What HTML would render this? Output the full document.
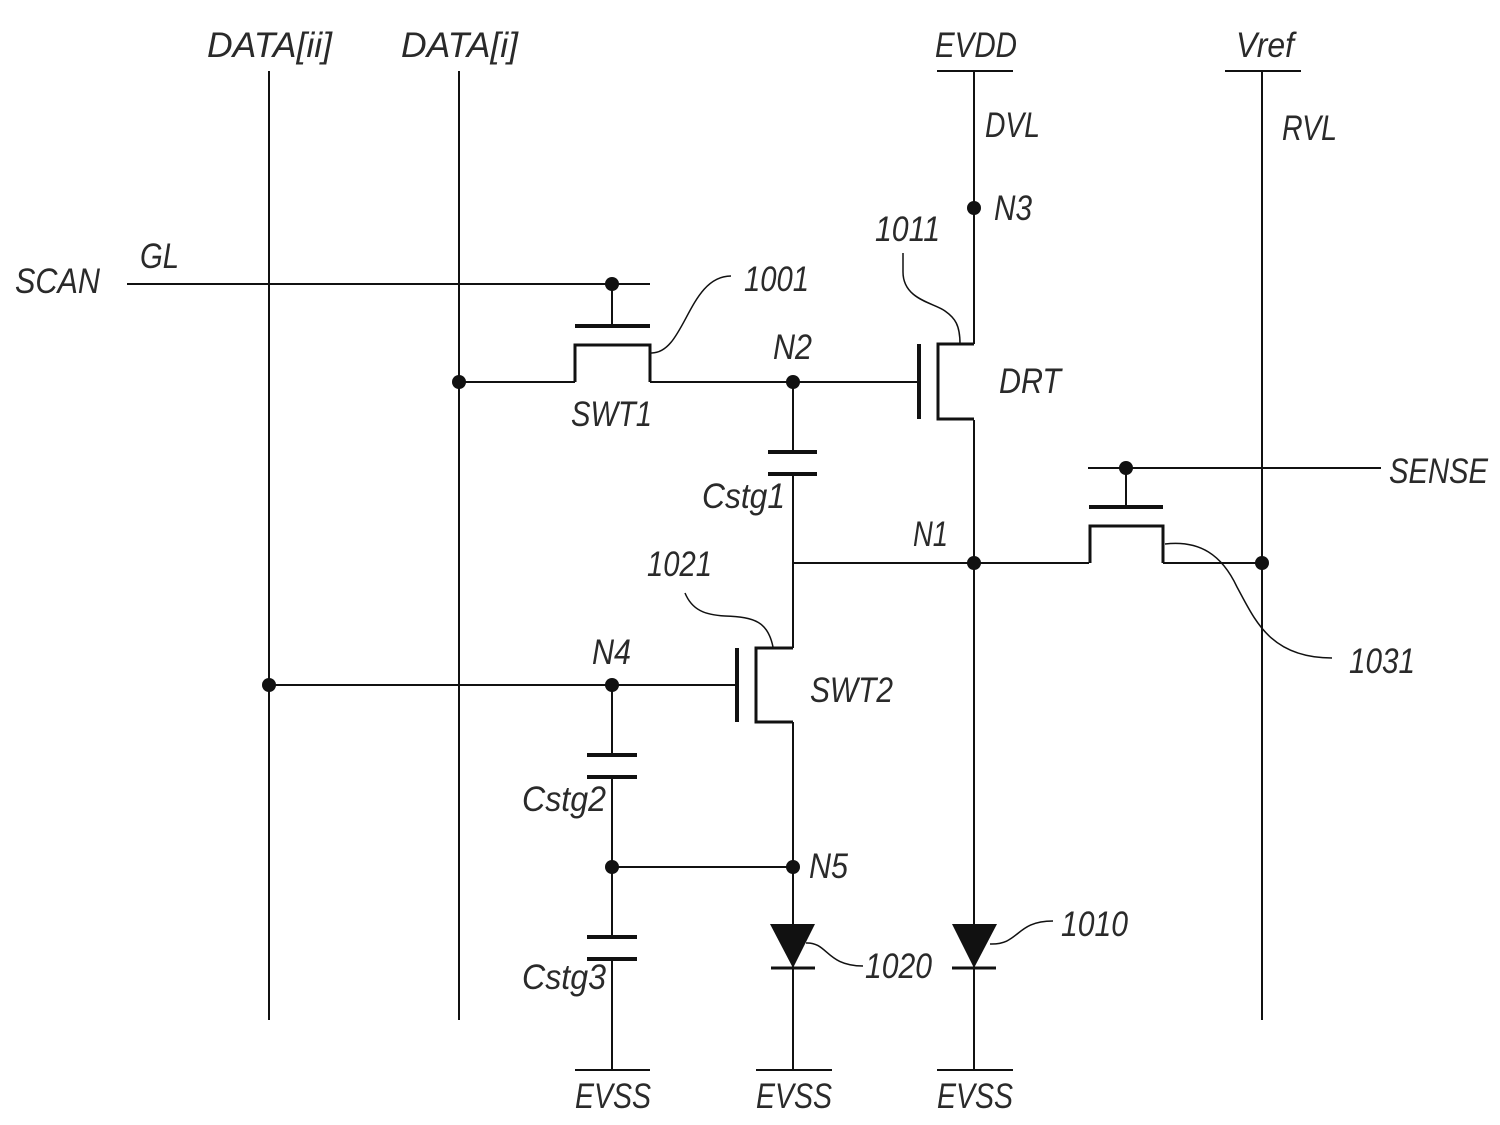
<!DOCTYPE html>
<html>
<head>
<meta charset="utf-8">
<style>
html,body{margin:0;padding:0;background:#fff;width:1500px;height:1125px;overflow:hidden}
svg{display:block}
text{font-family:"Liberation Sans",sans-serif;font-style:italic;font-size:35px;fill:#2a2a2a}
.l{stroke:#111;stroke-width:2;fill:none}
.c{stroke:#111;stroke-width:1.5;fill:none}
.t{stroke:#111;stroke-width:3;fill:none}
.g{stroke:#111;stroke-width:4;fill:none}
</style>
</head>
<body>
<svg width="1500" height="1125" viewBox="0 0 1500 1125" xmlns="http://www.w3.org/2000/svg">
<!-- rails -->
<path class="l" d="M269 71V1020M459 71V1020M1262 71V1020"/>
<path class="l" d="M937 71H1013M1225 71H1301"/>
<path class="l" d="M974 71V344"/>
<path class="l" d="M127 284H650M1088 468H1381"/>
<path class="l" d="M459 382H575M650 382H918"/>
<path class="l" d="M793 382V452M793 474V648"/>
<path class="l" d="M793 563H1089M1163 563H1262"/>
<path class="l" d="M974 420V1070"/>
<path class="l" d="M269 685H736"/>
<path class="l" d="M612 685V755M612 777V937M612 959V1070"/>
<path class="l" d="M793 722V1070"/>
<path class="l" d="M612 867H793"/>
<path class="l" d="M612 284V325M1126 468V507"/>
<path class="l" d="M575 1070H650M756 1070H832M937 1070H1013"/>
<!-- SWT1 -->
<path class="g" d="M575 326H650"/>
<path class="t" d="M575 382V345H650V382"/>
<!-- sense TFT -->
<path class="g" d="M1089 507H1163"/>
<path class="t" d="M1090 563V526H1163V563"/>
<!-- DRT -->
<path class="g" d="M919 344V419"/>
<path class="t" d="M974 344H938V419H974"/>
<!-- SWT2 -->
<path class="g" d="M737 648V722"/>
<path class="t" d="M793 648H756V722H793"/>
<!-- caps -->
<path class="g" d="M768 452H817M768 474H817"/>
<path class="g" d="M587 755H637M587 777H637"/>
<path class="g" d="M587 937H637M587 959H637"/>
<!-- diodes -->
<path d="M770 924H815L793 968Z" fill="#111"/>
<path class="t" d="M771 968H815"/>
<path d="M952 924H997L974 968Z" fill="#111"/>
<path class="t" d="M952 968H996"/>
<!-- leaders -->
<path class="c" d="M651 353C685 354 688 276 731 276"/>
<path class="c" d="M903 253V272C903 300 935 303 945 311C955 318 960 325 960 344"/>
<path class="c" d="M685 593C692 610 705 615 725 616C755 617 768 622 773 647"/>
<path class="c" d="M1165 544C1200 540 1222 555 1237 587C1255 620 1270 658 1332 658"/>
<path class="c" d="M806 943C828 942 826 966 863 966"/>
<path class="c" d="M990 944C1020 945 1015 921 1053 921"/>
<!-- dots -->
<g fill="#111">
<circle cx="612" cy="284" r="7"/><circle cx="459" cy="382" r="7"/><circle cx="793" cy="382" r="7"/>
<circle cx="974" cy="208" r="7"/><circle cx="1126" cy="468" r="7"/><circle cx="974" cy="563" r="7"/>
<circle cx="1262" cy="563" r="7"/><circle cx="269" cy="685" r="7"/><circle cx="612" cy="685" r="7"/>
<circle cx="612" cy="867" r="7"/><circle cx="793" cy="867" r="7"/>
</g>
<!-- labels -->
<g lengthAdjust="spacingAndGlyphs">
<text x="207" y="57" textLength="125" lengthAdjust="spacingAndGlyphs">DATA[ii]</text>
<text x="401" y="57" textLength="117" lengthAdjust="spacingAndGlyphs">DATA[i]</text>
<text x="935" y="57" textLength="82" lengthAdjust="spacingAndGlyphs">EVDD</text>
<text x="1236" y="57" textLength="58" lengthAdjust="spacingAndGlyphs">Vref</text>
<text x="985" y="137" textLength="55" lengthAdjust="spacingAndGlyphs">DVL</text>
<text x="1282" y="140" textLength="55" lengthAdjust="spacingAndGlyphs">RVL</text>
<text x="994" y="220" textLength="38" lengthAdjust="spacingAndGlyphs">N3</text>
<text x="875" y="241" textLength="65" lengthAdjust="spacingAndGlyphs">1011</text>
<text x="140" y="268" textLength="39" lengthAdjust="spacingAndGlyphs">GL</text>
<text x="15" y="293" textLength="85" lengthAdjust="spacingAndGlyphs">SCAN</text>
<text x="744" y="291" textLength="65" lengthAdjust="spacingAndGlyphs">1001</text>
<text x="773" y="359" textLength="39" lengthAdjust="spacingAndGlyphs">N2</text>
<text x="999" y="393" textLength="62" lengthAdjust="spacingAndGlyphs">DRT</text>
<text x="571" y="426" textLength="81" lengthAdjust="spacingAndGlyphs">SWT1</text>
<text x="1389" y="483" textLength="99" lengthAdjust="spacingAndGlyphs">SENSE</text>
<text x="702" y="508" textLength="83" lengthAdjust="spacingAndGlyphs">Cstg1</text>
<text x="913" y="546" textLength="35" lengthAdjust="spacingAndGlyphs">N1</text>
<text x="647" y="576" textLength="65" lengthAdjust="spacingAndGlyphs">1021</text>
<text x="592" y="664" textLength="39" lengthAdjust="spacingAndGlyphs">N4</text>
<text x="1349" y="673" textLength="66" lengthAdjust="spacingAndGlyphs">1031</text>
<text x="810" y="702" textLength="83" lengthAdjust="spacingAndGlyphs">SWT2</text>
<text x="522" y="811" textLength="84" lengthAdjust="spacingAndGlyphs">Cstg2</text>
<text x="809" y="878" textLength="39" lengthAdjust="spacingAndGlyphs">N5</text>
<text x="1061" y="936" textLength="67" lengthAdjust="spacingAndGlyphs">1010</text>
<text x="865" y="978" textLength="67" lengthAdjust="spacingAndGlyphs">1020</text>
<text x="522" y="989" textLength="84" lengthAdjust="spacingAndGlyphs">Cstg3</text>
<text x="575" y="1108" textLength="76" lengthAdjust="spacingAndGlyphs">EVSS</text>
<text x="756" y="1108" textLength="76" lengthAdjust="spacingAndGlyphs">EVSS</text>
<text x="937" y="1108" textLength="76" lengthAdjust="spacingAndGlyphs">EVSS</text>
</g>
</svg>
</body>
</html>
